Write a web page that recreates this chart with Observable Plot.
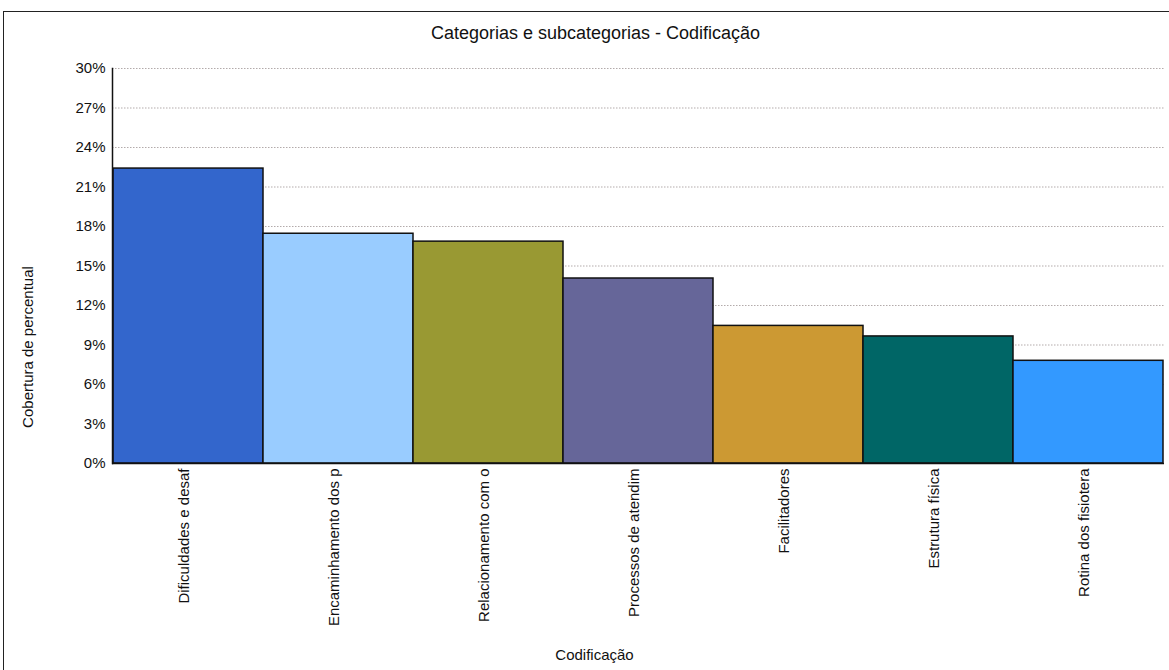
<!DOCTYPE html>
<html>
<head>
<meta charset="utf-8">
<script src="https://cdn.jsdelivr.net/npm/d3@7"></script>
<script src="https://cdn.jsdelivr.net/npm/@observablehq/plot@0.6"></script>
<style>
  html, body { margin: 0; padding: 0; background: #fff; }
  #wrap { position: relative; width: 1169px; height: 670px; overflow: hidden; }
  #border { position: absolute; left: 3px; top: 11px; width: 1200px; height: 700px; border: 1px solid #222; box-sizing: border-box; }
  #chart { position: absolute; left: 0; top: 0; }
  #ytitle { position: absolute; left: 27px; top: 347px; transform: translate(-50%, -50%) rotate(-90deg); white-space: nowrap;
            font-family: 'Liberation Sans', Arial, sans-serif; font-size: 15px; color: #111; }
</style>
</head>
<body>
<div id="wrap"><div id="border"></div><div id="chart"></div><div id="ytitle"></div></div>
<script>
const title = "Categorias e subcategorias - Codificação";
const xTitle = "Codificação";
const yTitle = "Cobertura de percentual";
const categories = [
  "Dificuldades e desaf",
  "Encaminhamento dos p",
  "Relacionamento com o",
  "Processos de atendim",
  "Facilitadores",
  "Estrutura física",
  "Rotina dos fisiotera"
];
const values = [22.4, 17.45, 16.85, 14.05, 10.45, 9.65, 7.8];
const colors = ["#3366CC", "#99CCFF", "#999933", "#666699", "#CC9933", "#006666", "#3399FF"];
const yTicks = [0, 3, 6, 9, 12, 15, 18, 21, 24, 27, 30];

const data = categories.map((c, i) => ({category: c, value: values[i], color: colors[i]}));

const font = "'Liberation Sans', Arial, sans-serif";

const chart = Plot.plot({
  width: 1169,
  height: 670,
  marginLeft: 112,
  marginRight: 5,
  marginTop: 68,
  marginBottom: 207,
  style: {fontFamily: font, fontSize: "15px", color: "#111", background: "transparent"},
  x: {type: "band", domain: categories, padding: 0, axis: null},
  y: {domain: [0, 30], axis: null},
  color: {type: "identity"},
  marks: [
    Plot.gridY(yTicks.filter(d => d > 0), {stroke: "#b3abab", strokeOpacity: 1, strokeDasharray: "1.5,1.5", strokeWidth: 1}),
    Plot.barY(data, {x: "category", y: "value", fill: "color", stroke: "#111", strokeWidth: 1.5}),
    Plot.axisY({ticks: yTicks, tickSize: 0, tickPadding: 7, tickFormat: d => d + "%", label: null, fontSize: 15}),
    Plot.frame({anchor: "left", stroke: "#111", strokeWidth: 1.5}),
    Plot.ruleY([0], {stroke: "#111", strokeWidth: 1.5}),
    Plot.text(categories, {x: d => d, frameAnchor: "bottom", rotate: -90, textAnchor: "end", dy: 5, fontSize: 15, fill: "#111"}),
    Plot.text([title], {frameAnchor: "top", lineAnchor: "middle", dx: -43, dy: -35, fontSize: 18, fill: "#111"}),
    Plot.text([xTitle], {frameAnchor: "bottom", lineAnchor: "middle", dx: -44, dy: 192, fontSize: 15, fill: "#111"})
  ]
});
document.getElementById("chart").appendChild(chart);
document.getElementById("ytitle").textContent = yTitle;
</script>
</body>
</html>
